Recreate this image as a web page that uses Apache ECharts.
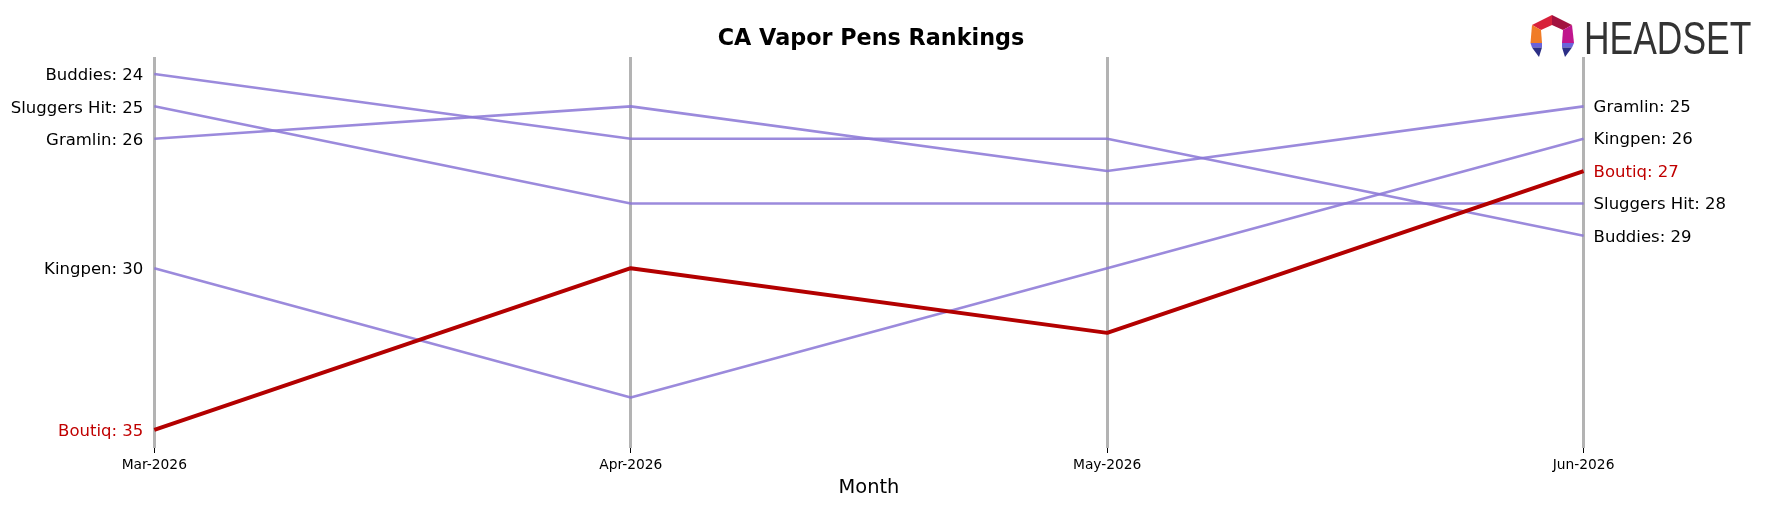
<!DOCTYPE html>
<html>
<head>
<meta charset="utf-8">
<script src="https://cdn.jsdelivr.net/npm/echarts@6/dist/echarts.min.js"></script>
<style>
  html, body { margin: 0; padding: 0; background: #fff; }
  #chart { width: 1766px; height: 507px; }
</style>
</head>
<body>
<div id="chart"></div>
<script>
// months on the x axis
var months = ['Mar-2026', 'Apr-2026', 'May-2026', 'Jun-2026'];

// rank of each brand per month
var buddies = [24, 26, 26, 29];
var sluggersHit = [25, 28, 28, 28];
var gramlin = [26, 25, 27, 25];
var kingpen = [30, 34, 30, 26];
var boutiq = [35, 30, 32, 27];

var brandNames = ['Buddies', 'Sluggers Hit', 'Gramlin', 'Kingpen', 'Boutiq'];
var brandRanks = [buddies, sluggersHit, gramlin, kingpen, boutiq];
var highlight = 'Boutiq';

var FONT = 'DejaVu Sans';
var PURPLE = 'rgba(137, 118, 214, 0.85)';
var RED = '#b30000';

var chart = echarts.init(document.getElementById('chart'));

var series = brandNames.map(function (name, i) {
    var hot = name === highlight;
    var textColor = hot ? '#c00000' : '#000';
    return {
        name: name,
        type: 'line',
        data: brandRanks[i],
        symbol: 'circle',
        symbolSize: 0,
        showSymbol: true,
        z: hot ? 10 : 2,
        lineStyle: { color: hot ? RED : PURPLE, width: hot ? 4 : 2.6 },
        itemStyle: { color: hot ? RED : PURPLE },
        label: {
            show: true,
            position: 'left',
            distance: 11,
            offset: [0, 2],
            fontFamily: FONT,
            fontSize: 16.5,
            color: textColor,
            formatter: function (p) {
                return p.dataIndex === 0 ? name + ': ' + p.value : '';
            }
        },
        endLabel: {
            show: true,
            distance: 10,
            offset: [0, 1.5],
            fontFamily: FONT,
            fontSize: 16.5,
            color: textColor,
            formatter: function (p) { return name + ': ' + p.value; }
        },
        emphasis: { disabled: true },
        animation: false
    };
});

// headset logo: hexagon ring open at the bottom
function poly(pts, color) {
    return { type: 'polygon', shape: { points: pts }, style: { fill: color } };
}
var logo = [
    poly([[1532, 25], [1552, 15], [1552, 25], [1541, 30]], '#d8213b'),
    poly([[1552, 15], [1572, 25], [1563, 30], [1552, 25]], '#a3123f'),
    poly([[1572, 25], [1574, 43], [1562, 43], [1563, 30]], '#c0168d'),
    poly([[1532, 25], [1541, 30], [1542, 43], [1530.5, 43]], '#f07c27'),
    poly([[1530.5, 43], [1542, 43], [1542, 47.5], [1532, 47.5]], '#6a63db'),
    poly([[1532, 47.5], [1542, 47.5], [1539, 57]], '#2c2f86'),
    poly([[1562, 43], [1574, 43], [1572, 47.5], [1562, 47.5]], '#6a63db'),
    poly([[1562, 47.5], [1572, 47.5], [1565, 57]], '#2c2f86'),
    {
        type: 'text',
        x: 1584, y: 41,
        scaleX: 0.77,
        style: {
            text: 'HEADSET',
            fontFamily: 'Liberation Sans',
            fontSize: 46,
            fill: '#333333',
            verticalAlign: 'middle',
            align: 'left'
        }
    }
];

var option = {
    animation: false,
    backgroundColor: '#fff',
    title: {
        text: 'CA Vapor Pens Rankings',
        left: 866,
        top: 23,
        textAlign: 'center',
        textStyle: { fontFamily: FONT, fontSize: 22.3, fontWeight: 'bold', color: '#000' }
    },
    grid: { left: 154.3, width: 1429.3, top: 57, height: 391 },
    xAxis: {
        type: 'category',
        data: months,
        boundaryGap: false,
        axisLine: { show: false },
        axisTick: { show: true, length: 5, lineStyle: { color: '#000', width: 1 } },
        axisLabel: { fontFamily: FONT, fontSize: 13.8, color: '#000', margin: 10 },
        splitLine: { show: true, lineStyle: { color: '#b3b3b3', width: 3 } },
        name: 'Month',
        nameLocation: 'middle',
        nameGap: 30,
        nameTextStyle: { fontFamily: FONT, fontSize: 19.4, color: '#000' }
    },
    yAxis: {
        type: 'value',
        inverse: true,
        min: 23.475,
        max: 35.558,
        show: false,
        splitLine: { show: false }
    },
    graphic: logo,
    series: series
};

chart.setOption(option);
</script>
</body>
</html>
